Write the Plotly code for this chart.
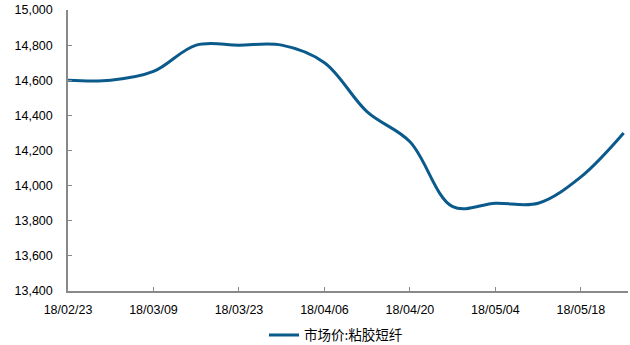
import plotly.graph_objects as go

# Weekly market price of viscose staple fibre (yuan/ton)
dates = [
    "2018-02-23", "2018-03-02", "2018-03-09", "2018-03-16", "2018-03-23",
    "2018-03-30", "2018-04-06", "2018-04-13", "2018-04-20", "2018-04-27",
    "2018-05-04", "2018-05-11", "2018-05-18", "2018-05-25",
]
prices = [
    14600, 14600, 14650, 14800, 14800,
    14800, 14700, 14420, 14250, 13880,
    13900, 13900, 14050, 14300,
]
series_name = "市场价:粘胶短纤"

x_tick_vals = ["2018-02-23", "2018-03-09", "2018-03-23", "2018-04-06",
               "2018-04-20", "2018-05-04", "2018-05-18"]
x_tick_text = ["18/02/23", "18/03/09", "18/03/23", "18/04/06",
               "18/04/20", "18/05/04", "18/05/18"]
y_tick_vals = [13400, 13600, 13800, 14000, 14200, 14400, 14600, 14800, 15000]
y_tick_text = ["13,400", "13,600", "13,800", "14,000", "14,200",
               "14,400", "14,600", "14,800", "15,000"]

line_color = "#0B5A8C"
axis_color = "#898989"
font_family = "Liberation Sans, Arial, sans-serif"

fig = go.Figure()
fig.add_trace(go.Scatter(
    x=dates, y=prices, mode="lines", name=series_name,
    line=dict(color=line_color, width=3, shape="spline", smoothing=1.0),
    showlegend=True,
))

fig.update_layout(
    width=630, height=345,
    margin=dict(l=68, r=2, t=10, b=54, autoexpand=False),
    paper_bgcolor="white", plot_bgcolor="white",
    font=dict(family=font_family, size=12, color="#000000"),
    showlegend=True,
    legend=dict(
        orientation="h", x=0.35, xanchor="left", y=-0.157, yanchor="middle",
        font=dict(family="Noto Sans CJK SC, sans-serif", size=13.5, color="#000000"),
        bgcolor="rgba(0,0,0,0)",
    ),
    xaxis=dict(
        type="date",
        range=["2018-02-23", "2018-05-25 17:00"],
        tickvals=x_tick_vals, ticktext=x_tick_text,
        ticks="inside", ticklen=4, tickcolor=axis_color, tickwidth=1,
        showline=True, linecolor=axis_color, linewidth=1.5,
        showgrid=False, zeroline=False,
        ticklabelstandoff=6,
        tickfont=dict(family=font_family, size=12.5, color="#000000"),
    ),
    yaxis=dict(
        range=[13400, 15000],
        tickvals=y_tick_vals, ticktext=y_tick_text,
        ticks="inside", ticklen=4, tickcolor=axis_color, tickwidth=1,
        showline=True, linecolor=axis_color, linewidth=1.5,
        showgrid=False, zeroline=False,
        ticklabelstandoff=11,
        tickfont=dict(family=font_family, size=12.5, color="#000000"),
    ),
)

fig.write_html("out.html")
